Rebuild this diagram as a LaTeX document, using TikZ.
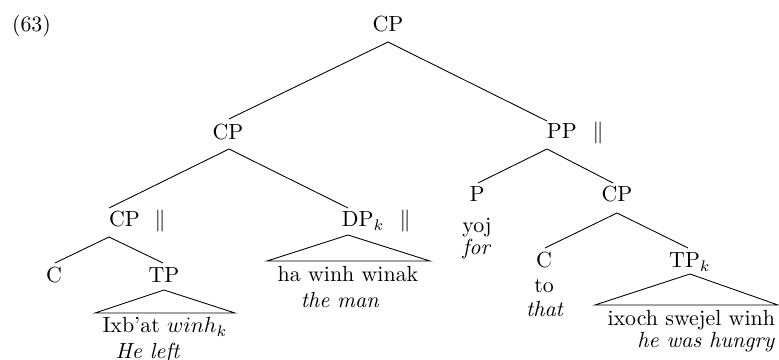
\documentclass[tikz,border=0pt]{standalone}
\begin{document}
\begin{tikzpicture}[x=0.4566pt,y=-0.4566pt,
  every node/.style={inner sep=0pt,outer sep=0pt},
  lbl/.style={anchor=base},
  lblw/.style={anchor=base west},
  lble/.style={anchor=base east},
  branch/.style={line width=0.4pt}]
\useasboundingbox (0,0) rectangle (779,360);
% labels
\node[lblw] (ex) at (12,32) {(63)};
\node[lbl] (cp0) at (388,32) {CP};
\node[lbl] (cp1) at (228,140) {CP};
\node[lblw] (pp) at (547,139) {PP};
\node[lbl] (ppbar) at (598,139) {$\|$};
\node[lblw] (cp2) at (109,227) {CP};
\node[lbl] (cp2bar) at (160,227) {$\|$};
\node[lblw] (dp) at (342,227) {DP$_k$};
\node[lbl] (dpbar) at (405,227) {$\|$};
\node[lbl] (p) at (477,202) {P};
\node[lbl] (yoj) at (477,233) {yoj};
\node[lbl] (for) at (477,255) {\textit{for}};
\node[lbl] (cp3) at (617,202) {CP};
\node[lbl] (c1) at (54,283) {C};
\node[lbl] (tp) at (164,283) {TP};
\node[lbl] (c2) at (544,268) {C};
\node[lbl] (to) at (544,293) {to};
\node[lbl] (that) at (545,317) {\textit{that}};
\node[lbl] (tpk) at (690,268) {TP$_k$};
\node[lbl] (s1) at (165,333) {Ixb'at $winh_k$};
\node[lbl] (g1) at (148,359) {\textit{He left}};
\node[lbl] (s2) at (348,282) {ha winh winak};
\node[lbl] (g2) at (340,308) {\textit{the man}};
\node[lble] (s3) at (775,326) {ixoch swejel winh};
\node[lble] (g3) at (775,348) {\textit{he was hungry}};
% attachment points
\coordinate (cp0b) at (388,42);
\coordinate (cp1t) at (229,119);
\coordinate (cp1b) at (229,149);
\coordinate (ppt) at (547,121);
\coordinate (ppb) at (547,149);
\coordinate (cp2t) at (109,208);
\coordinate (cp2b) at (109,237);
\coordinate (dpt) at (348,208);
\coordinate (dpb) at (348,235);
\coordinate (pt) at (478,183);
\coordinate (cp3t) at (613,183);
\coordinate (cp3b) at (617,213);
\coordinate (c1t) at (55,263);
\coordinate (tpt) at (163,263);
\coordinate (tpb) at (164,290);
\coordinate (c2t) at (545,248);
\coordinate (tpkt) at (688,248);
\coordinate (tpkb) at (690,274);
\coordinate (tri1l) at (95,313);
\coordinate (tri1r) at (235,313);
\coordinate (tri2l) at (267,261);
\coordinate (tri2r) at (430,261);
\coordinate (tri3l) at (595,305);
\coordinate (tri3r) at (778,305);
% branches
\draw[branch] (cp0b) -- (cp1t);
\draw[branch] (cp0b) -- (ppt);
\draw[branch] (cp1b) -- (cp2t);
\draw[branch] (cp1b) -- (dpt);
\draw[branch] (ppb) -- (pt);
\draw[branch] (ppb) -- (cp3t);
\draw[branch] (cp2b) -- (c1t);
\draw[branch] (cp2b) -- (tpt);
\draw[branch] (cp3b) -- (c2t);
\draw[branch] (cp3b) -- (tpkt);
% triangles
\draw[branch] (tpb) -- (tri1l) -- (tri1r) -- cycle;
\draw[branch] (dpb) -- (tri2l) -- (tri2r) -- cycle;
\draw[branch] (tpkb) -- (tri3l) -- (tri3r) -- cycle;
\end{tikzpicture}
\end{document}
